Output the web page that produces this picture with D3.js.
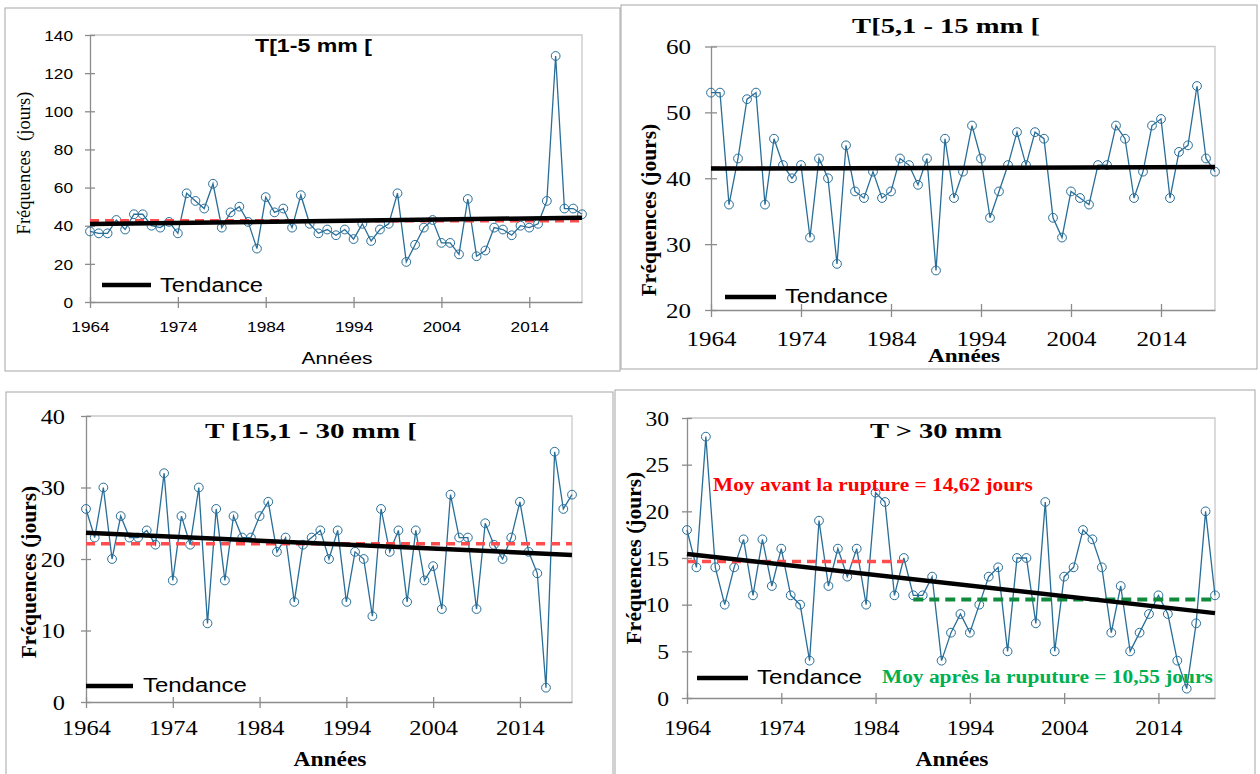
<!DOCTYPE html>
<html>
<head>
<meta charset="utf-8">
<title>Fréquences des jours de pluie</title>
<script src="https://d3js.org/d3.v7.min.js"></script>
<style>body { margin: 0; background: #fff; }</style>
</head>
<body>
<svg width="1260" height="774"></svg>
<script>
// years 1964 - 2020
const years = d3.range(1964, 2021)
const xTicks = [1964, 1974, 1984, 1994, 2004, 2014]

// number of days per class
const freq1_5 = [37, 36, 36, 43, 38, 46, 46, 40, 39, 42, 36, 57, 53, 49, 62, 39, 47, 50, 42, 28,
    55, 47, 49, 39, 56, 41, 36, 38, 35, 38, 33, 41, 32, 38, 41, 57, 21, 30, 39, 43,
    31, 31, 25, 54, 24, 27, 39, 38, 35, 40, 39, 41, 53, 129, 49, 49, 46]
const freq5_15 = [53, 53, 36, 43, 52, 53, 36, 46, 42, 40, 42, 31, 43, 40, 27, 45, 38, 37, 41, 37,
    38, 43, 42, 39, 43, 26, 46, 37, 41, 48, 43, 34, 38, 42, 47, 42, 47, 46, 34, 31,
    38, 37, 36, 42, 42, 48, 46, 37, 41, 48, 49, 37, 44, 45, 54, 43, 41]
const freq15_30 = [27, 23, 30, 20, 26, 23, 23, 24, 22, 32, 17, 26, 22, 30, 11, 27, 17, 26, 23, 23,
    26, 28, 21, 23, 14, 22, 23, 24, 20, 24, 14, 21, 20, 12, 27, 21, 24, 14, 24, 17,
    19, 13, 29, 23, 23, 13, 25, 22, 20, 23, 28, 21, 18, 2, 35, 27, 29]
const freq30 = [18, 14, 28, 14, 10, 14, 17, 11, 17, 12, 16, 11, 10, 4, 19, 12, 16, 13, 16, 10,
    22, 21, 11, 15, 11, 11, 13, 4, 7, 9, 7, 10, 13, 14, 5, 15, 15, 8, 21, 5,
    13, 14, 18, 17, 14, 7, 12, 5, 7, 9, 11, 9, 4, 1, 8, 20, 11]
const ruptureYear = 1987

const svg = d3.select("svg")
const serif = "'Liberation Serif', 'Times New Roman', serif"
const sans = "'Liberation Sans', Arial, sans-serif"
const blue = "#286e98"
const axisGrey = "#8c8c8c"

function addText(g, o) {
    const t = g.append("text").text(o.text)
        .attr("font-family", o.family)
        .attr("font-size", o.size)
        .attr("font-weight", o.weight || "normal")
        .attr("fill", o.fill || "#000")
        .attr("text-anchor", o.anchor || "start")
        .style("white-space", "pre")
    let sx = o.sx || 1
    if (o.width) sx = o.width / t.node().getComputedTextLength()
    t.attr("transform", `translate(${o.x},${o.y})` + (o.rotate ? ` rotate(${o.rotate})` : "") + ` scale(${sx},1)`)
    return t
}

function trendFn(xs, ys) {
    const mx = d3.mean(xs), my = d3.mean(ys)
    let num = 0, den = 0
    xs.forEach((xv, i) => { num += (xv - mx) * (ys[i] - my); den += (xv - mx) * (xv - mx) })
    const b = num / den
    return xv => my + b * (xv - mx)
}

const drawPanel = (p) => {
    const g = svg.append("g")
    g.append("rect")
        .attr("x", p.frame[0]).attr("y", p.frame[1])
        .attr("width", p.frame[2] - p.frame[0]).attr("height", p.frame[3] - p.frame[1])
        .attr("fill", "none").attr("stroke", "#a6a6a6")

    const x = d3.scaleLinear().domain([1964, 2020]).range([p.l, p.r])
    const y = d3.scaleLinear().domain(p.yDomain).range([p.b, p.t])

    // plot area outline (top and right)
    g.append("path").attr("d", `M${p.l},${p.t}H${p.r}V${p.b}`)
        .attr("fill", "none").attr("stroke", "#c9c9c9").attr("stroke-width", 1.3)

    const yAxis = d3.axisLeft(y)
        .tickValues(d3.range(p.yDomain[0], p.yDomain[1] + 0.1, p.yStep))
        .tickSizeInner(p.tick).tickSizeOuter(0)
    const xAxis = d3.axisBottom(x).tickValues(xTicks)
        .tickFormat(d3.format("d")).tickSizeInner(p.tick + 1).tickSizeOuter(0)

    const gy = g.append("g").attr("transform", `translate(${p.l},0)`).call(yAxis)
    const gx = g.append("g").attr("transform", `translate(0,${p.b})`).call(xAxis)
    for (const ax of [gx, gy]) {
        ax.select(".domain").attr("stroke", axisGrey).attr("stroke-width", 1.3)
        ax.selectAll(".tick line").attr("stroke", axisGrey).attr("stroke-width", 1.3)
        ax.selectAll(".tick text")
            .attr("font-family", p.tickFont).attr("font-size", p.tickSize).attr("fill", "#000")
    }
    gy.selectAll(".tick line").attr("x1", p.tick)
    gy.selectAll(".tick text")
        .attr("x", -p.yGap / p.sx).attr("dy", "0.35em")
        .attr("transform", `scale(${p.sx},1)`)
    gx.selectAll(".tick line").attr("y1", -p.tick)
    gx.selectAll(".tick text")
        .attr("y", p.xBase).attr("dy", 0)
        .attr("transform", `scale(${p.sx},1)`)

    // series
    const line = d3.line().x((d, i) => x(years[i])).y(d => y(d))
    g.append("path").datum(p.values)
        .attr("d", line).attr("fill", "none")
        .attr("stroke", blue).attr("stroke-width", 1.3)
    g.selectAll("circle.pt").data(p.values).enter().append("circle")
        .attr("class", "pt")
        .attr("cx", (d, i) => x(years[i])).attr("cy", d => y(d))
        .attr("r", 4.4).attr("fill", "none")
        .attr("stroke", blue).attr("stroke-width", 1)

    // mean lines
    p.means.forEach(m => {
        g.append("line")
            .attr("x1", x(m.from)).attr("x2", x(m.to))
            .attr("y1", y(m.value)).attr("y2", y(m.value))
            .attr("stroke", m.color).attr("stroke-width", m.w)
            .attr("stroke-dasharray", m.dash)
    })

    // trend
    const tr = trendFn(years, p.values)
    g.append("line")
        .attr("x1", x(1964)).attr("x2", x(2020))
        .attr("y1", y(tr(1964))).attr("y2", y(tr(2020)))
        .attr("stroke", "#000").attr("stroke-width", 4.5)

    // legend
    g.append("line")
        .attr("x1", p.leg.x1).attr("x2", p.leg.x2)
        .attr("y1", p.leg.y).attr("y2", p.leg.y)
        .attr("stroke", "#000").attr("stroke-width", 4.5)
    addText(g, { text: "Tendance", x: p.leg.tx, y: p.leg.ty, family: sans, size: 21, width: p.leg.tw })

    p.texts.forEach(t => addText(g, t))
}

const redDash = "#ff4d4d"

drawPanel({
    frame: [5, 8, 620, 371], l: 90, t: 35, r: 582, b: 302,
    yDomain: [0, 140], yStep: 20, values: freq1_5,
    tick: 5, tickFont: sans, tickSize: 15, sx: 1.15, yGap: 17, xBase: 30,
    means: [{ from: 1964, to: 2020, value: d3.mean(freq1_5), color: redDash, w: 3.5, dash: "9,6" }],
    leg: { x1: 102, x2: 151, y: 285, tx: 160, ty: 292, tw: 103 },
    texts: [
        { text: "T[1-5 mm [", x: 255, y: 52, family: sans, size: 18, weight: "bold", width: 117 },
        { text: "Années", x: 337, y: 364, family: sans, size: 16, anchor: "middle", width: 71 },
        { text: "Fréquences  (jours)", x: 30, y: 163, family: serif, size: 18.5, anchor: "middle", rotate: -90 }
    ]
})

drawPanel({
    frame: [621, 5, 1257, 369], l: 711, t: 46.5, r: 1215, b: 310,
    yDomain: [20, 60], yStep: 10, values: freq5_15,
    tick: 6, tickFont: serif, tickSize: 20, sx: 1.25, yGap: 20, xBase: 36,
    means: [{ from: 1964, to: 2020, value: d3.mean(freq5_15), color: redDash, w: 2.5, dash: "9,6" }],
    leg: { x1: 725, x2: 776, y: 297, tx: 785, ty: 303, tw: 103 },
    texts: [
        { text: "T[5,1 - 15 mm [", x: 946, y: 33, family: serif, size: 21, weight: "bold", anchor: "middle", width: 188 },
        { text: "Années", x: 964, y: 362, family: serif, size: 19, weight: "bold", anchor: "middle", width: 72 },
        { text: "Fréquences (jours)", x: 656, y: 210, family: serif, size: 21.5, weight: "bold", anchor: "middle", rotate: -90 }
    ]
})

drawPanel({
    frame: [6, 392, 613, 780], l: 86, t: 416, r: 572, b: 702,
    yDomain: [0, 40], yStep: 10, values: freq15_30,
    tick: 5, tickFont: serif, tickSize: 20, sx: 1.22, yGap: 21, xBase: 33,
    means: [{ from: 1964, to: 2020, value: d3.mean(freq15_30), color: redDash, w: 3.5, dash: "9,6" }],
    leg: { x1: 86, x2: 133, y: 686, tx: 143, ty: 692, tw: 104 },
    texts: [
        { text: "T [15,1 - 30 mm [", x: 311, y: 438, family: serif, size: 21, weight: "bold", anchor: "middle", width: 212 },
        { text: "Années", x: 330, y: 766, family: serif, size: 20, weight: "bold", anchor: "middle", width: 73 },
        { text: "Fréquences (jours)", x: 36, y: 572, family: serif, size: 21.5, weight: "bold", anchor: "middle", rotate: -90 }
    ]
})

const before = freq30.filter((d, i) => years[i] <= ruptureYear)
const after = freq30.filter((d, i) => years[i] > ruptureYear)

drawPanel({
    frame: [615, 390, 1255, 780], l: 687, t: 418, r: 1215, b: 698,
    yDomain: [0, 30], yStep: 5, values: freq30,
    tick: 5, tickFont: serif, tickSize: 20, sx: 1.18, yGap: 18, xBase: 37,
    means: [
        { from: 1964, to: ruptureYear, value: d3.mean(before), color: redDash, w: 3.5, dash: "9,6" },
        { from: ruptureYear + 1, to: 2020, value: d3.mean(after), color: "#128a3e", w: 4, dash: "10,6" }
    ],
    leg: { x1: 697, x2: 748, y: 678, tx: 757, ty: 684, tw: 105 },
    texts: [
        { text: "T > 30 mm", x: 936, y: 438, family: serif, size: 21, weight: "bold", anchor: "middle", width: 132 },
        { text: "Années", x: 952, y: 766, family: serif, size: 20, weight: "bold", anchor: "middle", width: 73 },
        { text: "Fréquences (jours)", x: 641, y: 558, family: serif, size: 21.5, weight: "bold", anchor: "middle", rotate: -90 },
        { text: "Moy avant la rupture = 14,62 jours", x: 713, y: 491, family: serif, size: 19, weight: "bold", fill: "#ff0000", width: 320 },
        { text: "Moy après la ruputure = 10,55 jours", x: 882, y: 683, family: serif, size: 19, weight: "bold", fill: "#00b050", width: 331 }
    ]
})
</script>
</body>
</html>
